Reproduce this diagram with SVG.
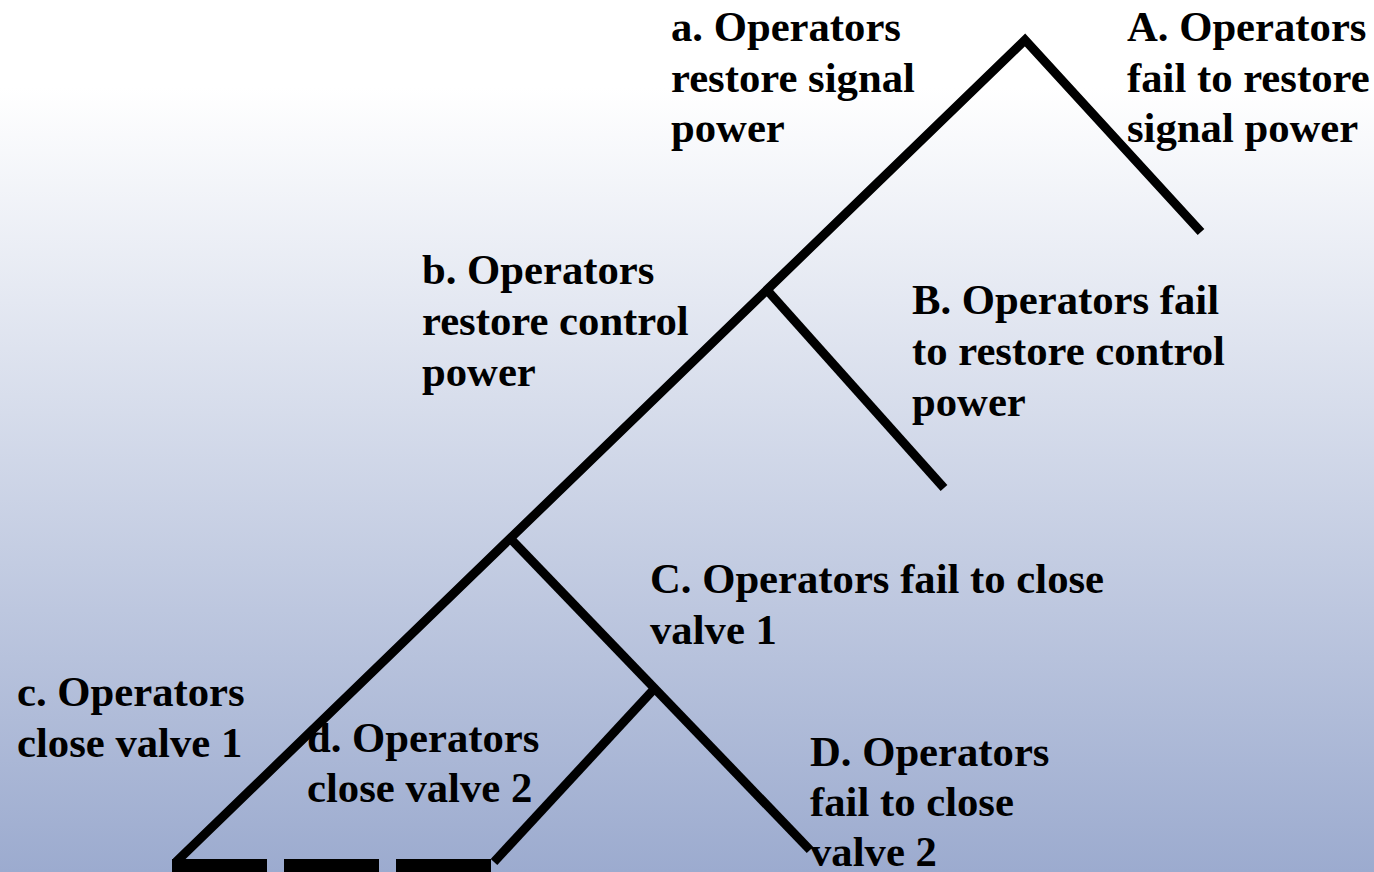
<svg xmlns="http://www.w3.org/2000/svg" width="1374" height="872" viewBox="0 0 1374 872">
  <defs>
    <linearGradient id="bg" x1="0" y1="0" x2="0" y2="1">
      <stop offset="0" stop-color="#FFFFFF"/>
      <stop offset="0.1" stop-color="#FFFFFF"/>
      <stop offset="1" stop-color="#9CABCF"/>
    </linearGradient>
    <style>
      .edge { fill: none; stroke: #000; stroke-width: 9; stroke-linecap: butt; stroke-linejoin: miter; }
      .lbl { font-family: "Liberation Serif", "Times New Roman", serif; font-weight: bold; font-size: 42.7px; fill: #000; }
    </style>
  </defs>

  <rect x="0" y="0" width="1374" height="872" fill="url(#bg)"/>

  <!-- event tree branches -->
  <g id="connectors">
    <polyline class="edge" points="176,862 1025,40 1201,232"/>
    <line class="edge" x1="767" y1="290" x2="944" y2="488"/>
    <line class="edge" x1="510" y1="538" x2="810" y2="850"/>
    <line class="edge" x1="655" y1="688" x2="494" y2="862"/>
    <line class="edge" x1="172" y1="867" x2="492" y2="867" style="stroke-width:16; stroke-dasharray:95 17"/>
  </g>

  <g id="node-a">
    <text class="lbl" x="671" y="41">a. Operators</text>
    <text class="lbl" x="671" y="92">restore signal</text>
    <text class="lbl" x="671" y="142">power</text>
  </g>
  <g id="node-A">
    <text class="lbl" x="1127" y="41">A. Operators</text>
    <text class="lbl" x="1127" y="92">fail to restore</text>
    <text class="lbl" x="1127" y="142">signal power</text>
  </g>
  <g id="node-b">
    <text class="lbl" x="422" y="284">b. Operators</text>
    <text class="lbl" x="422" y="335">restore control</text>
    <text class="lbl" x="422" y="386">power</text>
  </g>
  <g id="node-B">
    <text class="lbl" x="912" y="314">B. Operators fail</text>
    <text class="lbl" x="912" y="365">to restore control</text>
    <text class="lbl" x="912" y="416">power</text>
  </g>
  <g id="node-C">
    <text class="lbl" x="650" y="593">C. Operators fail to close</text>
    <text class="lbl" x="650" y="644">valve 1</text>
  </g>
  <g id="node-c">
    <text class="lbl" x="17" y="706">c. Operators</text>
    <text class="lbl" x="17" y="757">close valve 1</text>
  </g>
  <g id="node-d">
    <text class="lbl" x="307" y="752">d. Operators</text>
    <text class="lbl" x="307" y="802">close valve 2</text>
  </g>
  <g id="node-D">
    <text class="lbl" x="810" y="766">D. Operators</text>
    <text class="lbl" x="810" y="816">fail to close</text>
    <text class="lbl" x="810" y="866">valve 2</text>
  </g>
</svg>
